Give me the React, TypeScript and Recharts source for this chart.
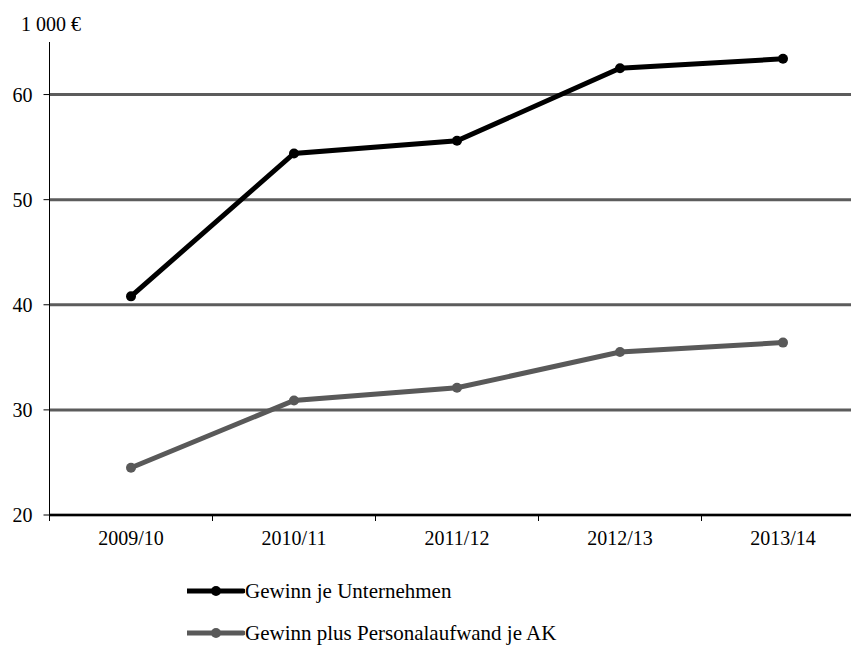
import { LineChart, Line, XAxis, YAxis, CartesianGrid } from "recharts";

const years = ["2009/10", "2010/11", "2011/12", "2012/13", "2013/14"];
const gewinnJeUnternehmen = [40.8, 54.4, 55.6, 62.5, 63.4];
const gewinnPlusPersonal = [24.5, 30.9, 32.1, 35.5, 36.4];
const yTicks = [20, 30, 40, 50, 60];

const SERIES = [
  { key: "gewinn", name: "Gewinn je Unternehmen", color: "#000000" },
  { key: "personal", name: "Gewinn plus Personalaufwand je AK", color: "#595959" },
];

const FONT = '"Liberation Serif", "Times New Roman", serif';
const CHART_W = 870;
const CHART_H = 560;
const MARGIN = { top: 42, right: 5.5, left: 0, bottom: 0 };
const Y_W = 49.5;
const BAND = (CHART_W - MARGIN.left - MARGIN.right - Y_W) / years.length;

const data = years.map((year, i) => ({
  year,
  gewinn: gewinnJeUnternehmen[i],
  personal: gewinnPlusPersonal[i],
}));

const XTick = (props: any) => {
  const { x, y, payload } = props;
  const bx = x - BAND / 2;
  return (
    <g>
      <line x1={bx} x2={bx} y1={y - 16} y2={y - 10} stroke="#000" strokeWidth={1} />
      <text x={x} y={y} dy="0.72em" textAnchor="middle" fontFamily={FONT} fontSize={20} fill="#000">
        {payload.value}
      </text>
    </g>
  );
};

export default function App() {
  return (
    <div
      style={{
        position: "fixed",
        left: 0,
        top: 0,
        width: 851,
        height: 645,
        overflow: "hidden",
        background: "#fff",
        fontFamily: FONT,
      }}
    >
      <div style={{ position: "absolute", left: 21, top: 13, fontSize: 20, color: "#000" }}>1 000 €</div>
      <LineChart width={CHART_W} height={CHART_H} data={data} margin={MARGIN}>
        <CartesianGrid vertical={false} horizontalValues={yTicks} stroke="#5c5c5c" strokeWidth={3} />
        <XAxis
          dataKey="year"
          scale="band"
          height={45}
          tickSize={0}
          tickLine={false}
          tickMargin={16}
          axisLine={{ stroke: "#000", strokeWidth: 2 }}
          tick={<XTick />}
          interval={0}
        />
        <YAxis
          domain={[20, 65]}
          ticks={yTicks}
          width={Y_W}
          tickSize={6}
          tickMargin={11}
          axisLine={{ stroke: "#000", strokeWidth: 1 }}
          tickLine={{ stroke: "#000" }}
          tick={{ fontFamily: FONT, fontSize: 20, fill: "#000" }}
        />
        {SERIES.map((s) => (
          <Line
            key={s.key}
            dataKey={s.key}
            name={s.name}
            type="linear"
            stroke={s.color}
            strokeWidth={5}
            dot={{ r: 5, fill: s.color, stroke: s.color, strokeWidth: 0 }}
            isAnimationActive={false}
          />
        ))}
      </LineChart>
      {SERIES.map((s, i) => (
        <div
          key={s.key}
          style={{
            position: "absolute",
            left: 187,
            top: 591 + i * 42 - 15,
            height: 30,
            display: "flex",
            alignItems: "center",
            fontSize: 21,
            color: "#000",
            whiteSpace: "nowrap",
          }}
        >
          <svg width={58} height={30}>
            <line x1={0} x2={56} y1={15} y2={15} stroke={s.color} strokeWidth={5} strokeLinecap="round" />
            <circle cx={29} cy={15} r={5} fill={s.color} />
          </svg>
          <span>{s.name}</span>
        </div>
      ))}
    </div>
  );
}
